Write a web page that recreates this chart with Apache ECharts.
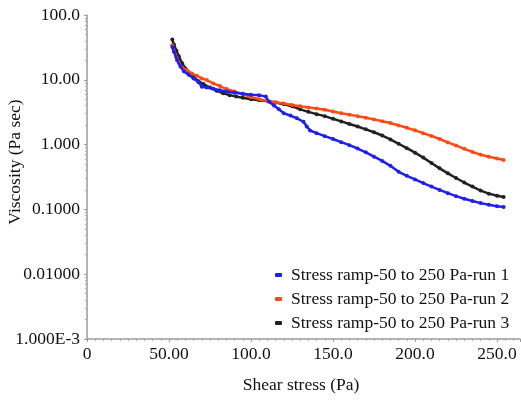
<!DOCTYPE html>
<html>
<head>
<meta charset="utf-8">
<script src="https://cdn.jsdelivr.net/npm/echarts@6/dist/echarts.min.js"></script>
<style>html,body{margin:0;padding:0;background:#fff}#c{width:521px;height:400px}</style>
</head>
<body>
<div id="c"></div>
<script>
const seriesNames = ['Stress ramp-50 to 250 Pa-run 1', 'Stress ramp-50 to 250 Pa-run 2', 'Stress ramp-50 to 250 Pa-run 3'];
const seriesColors = ['#1f1ff0', '#ff4a14', '#222222'];

const run1Stress = [52, 53, 55, 57, 59, 62, 65, 68, 70, 73, 77, 81, 85, 90, 95, 100, 105, 109, 111, 114, 117, 120, 124, 128, 132, 134, 136, 140, 145, 150, 155, 160, 165, 170, 175, 180, 185, 190, 195, 200, 205, 210, 215, 220, 225, 230, 235, 240, 245, 250, 254];
const run1Visc = [32, 27, 20, 16, 13.5, 12, 10.5, 9.2, 7.8, 7.6, 7.3, 6.9, 6.6, 6.3, 6.1, 5.9, 5.8, 5.5, 4.6, 4.0, 3.5, 3.05, 2.8, 2.55, 2.25, 1.9, 1.65, 1.5, 1.35, 1.22, 1.09, 0.98, 0.87, 0.76, 0.65, 0.56, 0.47, 0.38, 0.33, 0.29, 0.255, 0.225, 0.2, 0.178, 0.16, 0.146, 0.135, 0.125, 0.118, 0.112, 0.109];

const run2Stress = [52, 53, 54.5, 56, 58, 61, 64, 67, 70, 73, 77, 81, 85, 90, 95, 100, 105, 110, 115, 120, 125, 130, 135, 140, 145, 150, 155, 160, 165, 170, 175, 180, 185, 190, 195, 200, 205, 210, 215, 220, 225, 230, 235, 240, 245, 250, 254];
const run2Visc = [34, 28, 22, 18, 15.5, 14, 12.5, 11.5, 10.5, 9.9, 8.8, 8.0, 7.2, 6.6, 6.0, 5.4, 5.0, 4.7, 4.5, 4.3, 4.1, 3.9, 3.75, 3.6, 3.45, 3.25, 3.05, 2.9, 2.75, 2.6, 2.45, 2.3, 2.15, 1.98, 1.82, 1.66, 1.5, 1.36, 1.22, 1.08, 0.97, 0.86, 0.77, 0.70, 0.65, 0.61, 0.578];

const run3Stress = [52, 53, 54.5, 56, 58, 60, 62, 65, 68, 71, 75, 79, 83, 87, 91, 95, 100, 105, 110, 115, 120, 125, 130, 135, 140, 145, 150, 155, 160, 165, 170, 175, 180, 185, 190, 195, 200, 205, 210, 215, 220, 225, 230, 235, 240, 245, 250, 254];
const run3Visc = [42, 35, 28, 23, 18, 15, 13, 11, 9.5, 8.6, 7.6, 6.8, 6.2, 5.8, 5.5, 5.3, 5.0, 4.85, 4.7, 4.45, 4.2, 3.9, 3.5, 3.2, 2.95, 2.75, 2.5, 2.28, 2.08, 1.9, 1.72, 1.55, 1.38, 1.2, 1.03, 0.88, 0.75, 0.63, 0.52, 0.43, 0.36, 0.305, 0.26, 0.225, 0.195, 0.175, 0.162, 0.155];

const xTickValues = [0, 50, 100, 150, 200, 250];
const xTickLabels = ['0', '50.00', '100.0', '150.0', '200.0', '250.0'];
const yTickValues = [0.001, 0.01, 0.1, 1, 10, 100];
const yTickLabels = ['1.000E-3', '0.01000', '0.1000', '1.000', '10.00', '100.0'];

const FONT = "'Liberation Serif', 'Times New Roman', serif";
const FS = 17.5;

function pairs(xs, ys) { return xs.map((x, i) => [x, ys[i]]); }
const allStress = [run1Stress, run2Stress, run3Stress];
const allVisc = [run1Visc, run2Visc, run3Visc];

function labelFor(vals, labels, v) {
  for (let i = 0; i < vals.length; i++) {
    if (Math.abs(v - vals[i]) <= Math.abs(vals[i]) * 1e-6 + 1e-9) return labels[i];
  }
  return '';
}

const chart = echarts.init(document.getElementById('c'), null, { renderer: 'canvas' });
chart.setOption({
  animation: false,
  backgroundColor: '#ffffff',
  grid: { left: 87, right: 1, top: 15, bottom: 61, containLabel: false, outerBoundsMode: 'none' },
  legend: {
    orient: 'vertical',
    left: 270,
    top: 261,
    itemGap: 6,
    itemWidth: 7,
    itemHeight: 4,
    icon: 'roundRect',
    textStyle: { fontFamily: FONT, fontSize: FS, color: '#111', padding: [0, 0, 0, 4] },
    data: seriesNames
  },
  xAxis: {
    type: 'value',
    min: 0,
    max: 264,
    interval: 50,
    name: 'Shear stress (Pa)',
    nameLocation: 'middle',
    nameGap: 37,
    nameMoveOverlap: false,
    nameTextStyle: { fontFamily: FONT, fontSize: FS, color: '#111', padding: [0, 5, 0, 0] },
    axisLine: { show: true, lineStyle: { color: '#9a9a9a', width: 1.5 } },
    axisTick: { show: true, length: 3, lineStyle: { color: '#9a9a9a' } },
    minorTick: { show: true, splitNumber: 10, length: 2, lineStyle: { color: '#aaaaaa' } },
    splitLine: { show: false },
    axisLabel: {
      fontFamily: FONT, fontSize: FS, color: '#111', margin: 6,
      showMaxLabel: false,
      formatter: v => labelFor(xTickValues, xTickLabels, v)
    }
  },
  yAxis: {
    type: 'log',
    logBase: 10,
    min: 0.001,
    max: 100,
    name: 'Viscosity (Pa sec)',
    nameLocation: 'middle',
    nameGap: 63,
    nameMoveOverlap: false,
    nameTextStyle: { fontFamily: FONT, fontSize: FS, color: '#111', padding: [0, 0, 0, 30] },
    axisLine: { show: true, lineStyle: { color: '#9a9a9a', width: 1.5 } },
    axisTick: { show: true, length: 3, lineStyle: { color: '#9a9a9a' } },
    minorTick: { show: true, splitNumber: 9, length: 2, lineStyle: { color: '#aaaaaa' } },
    splitLine: { show: false },
    axisLabel: {
      fontFamily: FONT, fontSize: FS, color: '#111', margin: 7,
      formatter: v => labelFor(yTickValues, yTickLabels, v)
    }
  },
  series: seriesNames.map((name, i) => ({
    name: name,
    type: 'line',
    data: pairs(allStress[i], allVisc[i]),
    showSymbol: true,
    symbol: 'circle',
    symbolSize: 4,
    itemStyle: { color: seriesColors[i] },
    lineStyle: { color: seriesColors[i], width: 2.5 },
    z: 3 - i
  }))
});
</script>
</body>
</html>
